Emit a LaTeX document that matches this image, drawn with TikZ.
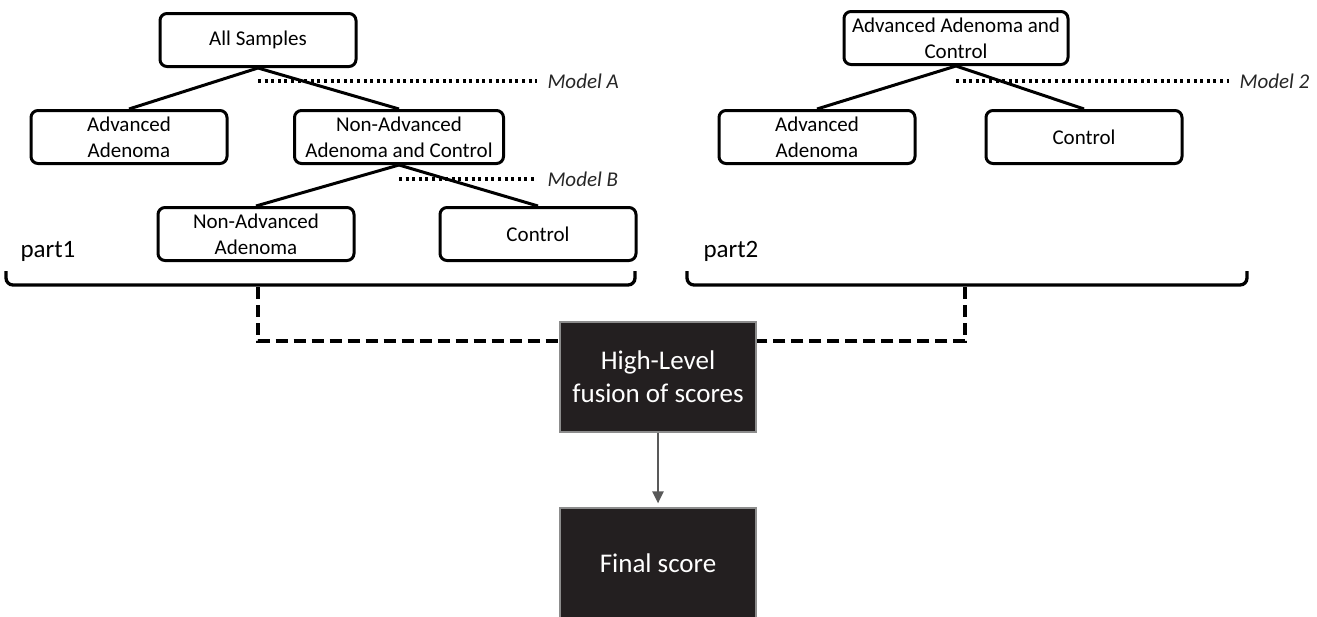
\documentclass[tikz,border=0pt]{standalone}
\usepackage{fontspec}
\setmainfont{Carlito}
\usepackage{xcolor}
\usepackage{tikz}
\usetikzlibrary{arrows.meta}

\definecolor{boxfill}{RGB}{35,31,32}

\tikzset{
	box/.style={draw, line width=3pt, rounded corners=7pt, align=center, minimum width=196pt, minimum height=53pt, inner xsep=8pt, inner ysep=2pt, font=\fontsize{21}{26}\selectfont},
	darkbox/.style={draw=black!45, line width=1.2pt, fill=boxfill, text=white, align=center, minimum width=196pt, minimum height=110pt, font=\fontsize{27}{33}\selectfont},
	edge/.style={line width=3pt},
	modelline/.style={line width=3.2pt, dash pattern=on 3pt off 3.6pt},
	modellabel/.style={anchor=west, font=\fontsize{21}{25}\selectfont\itshape, text=black!85},
	partlabel/.style={anchor=base west, font=\fontsize{25}{30}\selectfont},
	bracket/.style={line width=3.3pt, rounded corners=7pt},
	linkline/.style={line width=4pt, dash pattern=on 12pt off 6pt},
	arrowline/.style={line width=2.2pt, black!65, -{Triangle[length=12pt,width=11pt]}, shorten >=4pt}
}

\begin{document}
\begin{tikzpicture}[x=1pt,y=-1pt]
	\useasboundingbox (0,0) rectangle (1317,616);
	
	\node[box] (all) at (258,40) {All Samples};
	\node[box] (adv1) at (129,137) {Advanced\\Adenoma};
	\node[box, minimum width=209pt] (nac) at (399,137) {Non-Advanced\\Adenoma and Control};
	\node[box] (naa) at (256,234) {Non-Advanced\\Adenoma};
	\node[box] (ctl1) at (538,234) {Control};
	\draw[edge] (all.south) -- (adv1.north);
	\draw[edge] (all.south) -- (nac.north);
	\draw[edge] (nac.south) -- (naa.north);
	\draw[edge] (nac.south) -- (ctl1.north);
	
	\node[modellabel] (modA) at (544,81) {Model A};
	\draw[modelline] (all.south |- modA.west) -- ([xshift=-7pt]modA.west);
	\node[modellabel] (modB) at (544,179) {Model B};
	\draw[modelline] (nac.south |- modB.west) -- ([xshift=-7pt]modB.west);
	
	\node[box] (aac) at (956,38) {Advanced Adenoma and\\Control};
	\node[box] (adv2) at (817,137) {Advanced\\Adenoma};
	\node[box] (ctl2) at (1084,137) {Control};
	\draw[edge] (aac.south) -- (adv2.north);
	\draw[edge] (aac.south) -- (ctl2.north);
	
	\node[modellabel] (mod2) at (1236,81) {Model 2};
	\draw[modelline] (aac.south |- mod2.west) -- ([xshift=-7pt]mod2.west);
	
	\node[partlabel] (part1) at (17,257) {part1};
	\node[partlabel] (part2) at (700,257) {part2};
	\draw[bracket] (6,271) -- (6,285) -- (635,285) -- (635,271);
	\coordinate (tip1) at (258,287);
	\draw[bracket] (687,271) -- (687,285) -- (1247,285) -- (1247,271);
	\coordinate (tip2) at (965,287);
	
	\node[darkbox] (fuse) at (658,377) {High-Level\\fusion of scores};
	\node[darkbox] (final) at (658,563) {Final score};
	\draw[linkline] (tip1) |- ([yshift=-20pt]fuse.north west);
	\draw[linkline] (tip2) |- ([yshift=-20pt]fuse.north east);
	\draw[arrowline] (fuse) -- (final);
\end{tikzpicture}
\end{document}
